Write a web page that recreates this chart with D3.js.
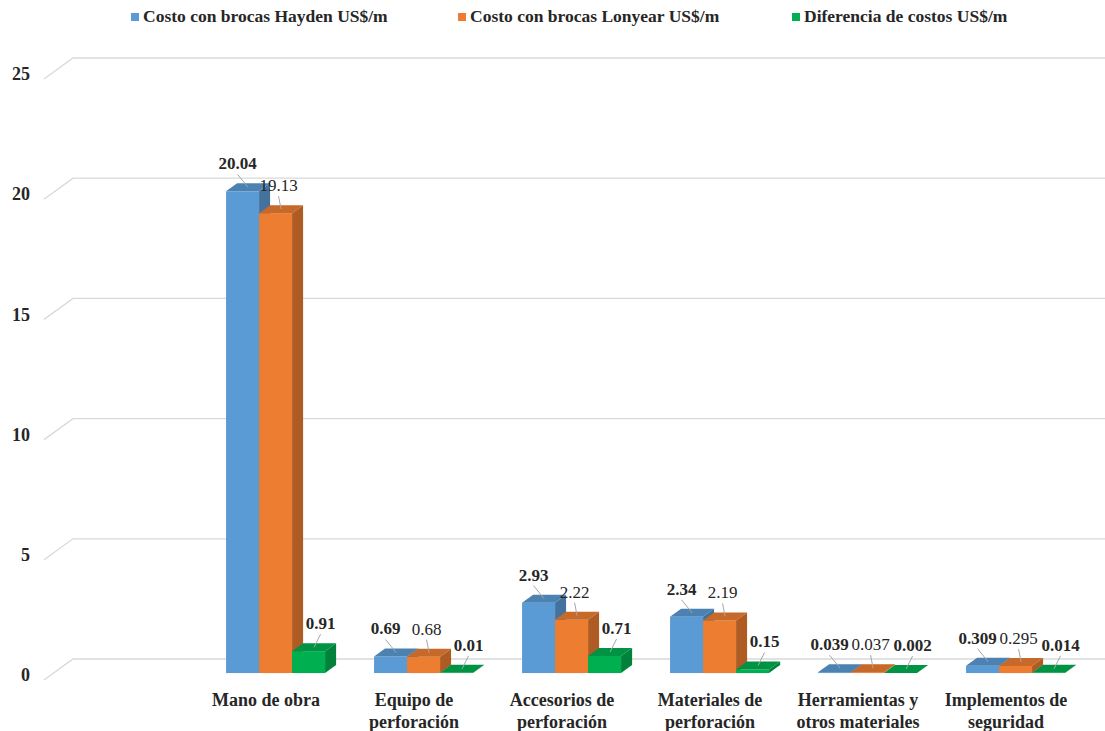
<!DOCTYPE html>
<html lang="es">
<head>
<meta charset="UTF-8">
<title>Costos de perforación</title>
<style>
  body { margin: 0; background: #fff; }
  svg text { font-family: "Liberation Serif", "DejaVu Serif", serif; }
</style>
</head>
<body>
<svg width="1105" height="731"></svg>
<script src="https://d3js.org/d3.v7.min.js"></script>
<script>
// datos
var categories = ["", "Mano de obra", "Equipo de perforación", "Accesorios de perforación",
    "Materiales de perforación", "Herramientas y otros materiales", "Implementos de seguridad"];
var categoryLines = [[""], ["Mano de obra"], ["Equipo de", "perforación"], ["Accesorios de", "perforación"],
    ["Materiales de", "perforación"], ["Herramientas y", "otros materiales"], ["Implementos de", "seguridad"]];
var seriesNames = ["Costo con brocas Hayden US$/m", "Costo con brocas Lonyear US$/m", "Diferencia de costos US$/m"];
var hayden = [null, 20.04, 0.69, 2.93, 2.34, 0.039, 0.309];
var lonyear = [null, 19.13, 0.68, 2.22, 2.19, 0.037, 0.295];
var diferencia = [null, 0.91, 0.01, 0.71, 0.15, 0.002, 0.014];
var yTicks = [0, 5, 10, 15, 20, 25];

var seriesValues = [hayden, lonyear, diferencia];
var colors = ["#5B9BD5", "#ED7D31", "#00B050"];
const serif = "'Liberation Serif', 'Times New Roman', 'DejaVu Serif', serif";

var svg = d3.select("svg");
const width = +svg.attr("width");

// profundidad del piso 3D y posicion de las barras dentro de ella
const depthX = 29, depthY = -21;
const t0 = 0.33, t1 = 0.71;
const bdx = depthX * (t1 - t0), bdy = depthY * (t1 - t0);

var yBack = d3.scaleLinear().domain([0, 25]).range([659, 58]);
var yFront = v => yBack(v) - depthY;
var yBar = v => yFront(v) + depthY * t0;

var x0 = d3.scaleBand().domain(categories).range([44, 44 + 148 * categories.length]);
var x1 = d3.scaleBand().domain(seriesNames).range([0, x0.bandwidth()]).paddingOuter(0.742).paddingInner(0);

// lineas de la cuadricula
var grid = svg.append("g");
yTicks.forEach(function(t) {
    grid.append("path")
        .attr("d", "M44," + yFront(t) + "L" + (44 + depthX) + "," + yBack(t) + "L" + width + "," + yBack(t))
        .attr("fill", "none")
        .attr("stroke", "#D9D9D9")
        .attr("stroke-width", 1.3);
    grid.append("text")
        .attr("x", 30)
        .attr("y", yFront(t) - 3)
        .attr("text-anchor", "end")
        .attr("dominant-baseline", "middle")
        .attr("font-family", serif)
        .attr("font-size", "18px")
        .attr("font-weight", "bold")
        .attr("fill", "#262626")
        .text(t);
});

// barras
var bars = [];
categories.forEach(function(c, ci) {
    seriesNames.forEach(function(s, si) {
        var v = seriesValues[si][ci];
        if (v == null) return;
        bars.push({cat: c, series: s, si: si, value: v});
    });
});

var barG = svg.append("g");
bars.forEach(function(d) {
    var xf = x0(d.cat) + x1(d.series) + depthX * t0;
    var w = x1.bandwidth();
    var yt = yBar(d.value), yb = yBar(0);
    var col = d3.color(colors[d.si]);
    d.xf = xf; d.w = w; d.yt = yt;
    var g = barG.append("g");
    g.append("rect")
        .attr("x", xf).attr("y", yt)
        .attr("width", w).attr("height", yb - yt)
        .attr("fill", col);
    g.append("path")
        .attr("d", "M" + xf + "," + yt + "L" + (xf + w) + "," + yt + "L" + (xf + w + bdx) + "," + (yt + bdy) +
            "L" + (xf + bdx) + "," + (yt + bdy) + "Z")
        .attr("fill", col.darker(0.5));
    g.append("path")
        .attr("d", "M" + (xf + w) + "," + yt + "L" + (xf + w + bdx) + "," + (yt + bdy) + "L" + (xf + w + bdx) + "," + (yb + bdy) +
            "L" + (xf + w) + "," + yb + "Z")
        .attr("fill", col.darker(0.85));
});

// etiquetas de datos
var labelDx = [-5, 3, 12];
var labelG = svg.append("g");
bars.forEach(function(d) {
    var tx = d.xf + d.w / 2 + labelDx[d.si];
    var ty = d.yt - 22;
    labelG.append("line")
        .attr("x1", tx).attr("y1", ty + 5)
        .attr("x2", d.xf + d.w / 2 + bdx / 2).attr("y2", d.yt + bdy / 2)
        .attr("stroke", "#A6A6A6")
        .attr("stroke-width", 1);
    labelG.append("text")
        .attr("x", tx).attr("y", ty)
        .attr("text-anchor", "middle")
        .attr("font-family", serif)
        .attr("font-size", "17px")
        .attr("font-weight", d.si === 1 ? "normal" : "bold")
        .attr("fill", "#262626")
        .text(String(d.value));
});

// etiquetas de categorias
var catG = svg.append("g");
categories.forEach(function(c, ci) {
    var t = catG.append("text")
        .attr("x", x0(c) + x0.bandwidth() / 2)
        .attr("text-anchor", "middle")
        .attr("font-family", serif)
        .attr("font-size", "18px")
        .attr("font-weight", "bold")
        .attr("fill", "#262626");
    categoryLines[ci].forEach(function(line, li) {
        t.append("tspan")
            .attr("x", x0(c) + x0.bandwidth() / 2)
            .attr("y", 706 + li * 22)
            .text(line);
    });
});

// leyenda
var legendX = [131, 458, 792];
var legend = svg.append("g");
seriesNames.forEach(function(s, i) {
    legend.append("rect")
        .attr("x", legendX[i]).attr("y", 13)
        .attr("width", 8).attr("height", 8)
        .attr("fill", colors[i]);
    legend.append("text")
        .attr("x", legendX[i] + 12).attr("y", 22)
        .attr("font-family", serif)
        .attr("font-size", "17.5px")
        .attr("font-weight", "bold")
        .attr("fill", "#262626")
        .text(s);
});
</script>
</body>
</html>
